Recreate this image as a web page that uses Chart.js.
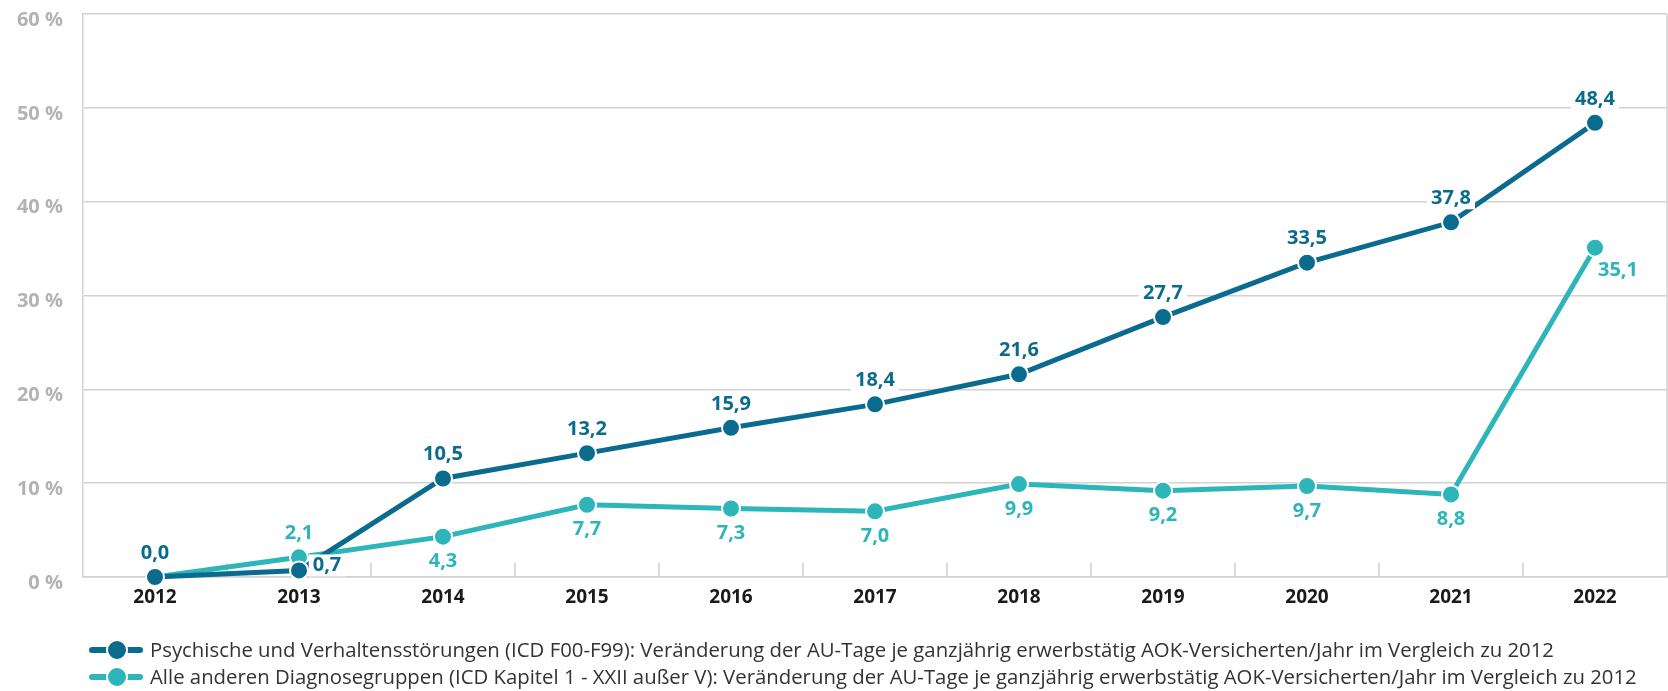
<!DOCTYPE html>
<html>
<head>
<meta charset="utf-8">
<script src="https://cdn.jsdelivr.net/npm/chart.js@4.4.0/dist/chart.umd.min.js"></script>
<style>
  html, body { margin: 0; background: #fff; overflow: hidden; }
  #wrap { width: 1668px; height: 691px; position: relative; }
</style>
</head>
<body>
<div id="wrap"><canvas id="auChart"></canvas></div>
<script>
const years = ['2012', '2013', '2014', '2015', '2016', '2017', '2018', '2019', '2020', '2021', '2022']
const psychValues = [0.0, 0.7, 10.5, 13.2, 15.9, 18.4, 21.6, 27.7, 33.5, 37.8, 48.4]
const otherValues = [0.0, 2.1, 4.3, 7.7, 7.3, 7.0, 9.9, 9.2, 9.7, 8.8, 35.1]
const yTicks = [0, 10, 20, 30, 40, 50, 60]

const psychLabel = 'Psychische und Verhaltensstörungen (ICD F00-F99): Veränderung der AU-Tage je ganzjährig erwerbstätig AOK-Versicherten/Jahr im Vergleich zu 2012'
const otherLabel = 'Alle anderen Diagnosegruppen (ICD Kapitel 1 - XXII außer V): Veränderung der AU-Tage je ganzjährig erwerbstätig AOK-Versicherten/Jahr im Vergleich zu 2012'

const darkBlue = '#0b6b8f'
const teal = '#2db5b9'
const gridGray = '#d2d2d2'

// where each value label sits relative to its point
const psychLabelPos = ['top', 'right', 'top', 'top', 'top', 'top', 'top', 'top', 'top', 'top', 'top']
const otherLabelPos = ['none', 'top', 'bottom', 'bottom', 'bottom', 'bottom', 'bottom', 'bottom', 'bottom', 'bottom', 'bottomright']

function fmt(v) {
  return v.toFixed(1).replace('.', ',')
}

// value labels with white box behind
const valueLabels = {
  id: 'valueLabels',
  afterDatasetsDraw(chart) {
    const ctx = chart.ctx
    ctx.save()
    ctx.font = 'bold 20px "Open Sans"'
    ctx.textAlign = 'center'
    ctx.textBaseline = 'middle'
    chart.data.datasets.forEach((ds, di) => {
      const meta = chart.getDatasetMeta(di)
      meta.data.forEach((pt, i) => {
        const pos = ds.labelPos[i]
        if (pos === 'none') return
        let dx = 0, dy = -24
        if (pos === 'bottom') dy = 25
        if (pos === 'right') { dx = 28; dy = -5 }
        if (pos === 'bottomright') { dx = 23; dy = 23 }
        const txt = fmt(ds.data[i])
        const w = ctx.measureText(txt).width
        const x = pt.x + dx, y = pt.y + dy
        ctx.fillStyle = '#fff'
        ctx.fillRect(x - w / 2 - 4, y - 11, w + 8, 22)
        ctx.fillStyle = ds.borderColor
        ctx.fillText(txt, x, y)
      })
    })
    ctx.restore()
  }
}

// small inner ticks between categories + right border
const frameBits = {
  id: 'frameBits',
  beforeDatasetsDraw(chart) {
    const ctx = chart.ctx
    const area = chart.chartArea
    const xs = chart.scales.x
    ctx.save()
    ctx.strokeStyle = gridGray
    ctx.lineWidth = 1.5
    ctx.beginPath()
    for (let i = 1; i < years.length; i++) {
      const x = (xs.getPixelForTick(i - 1) + xs.getPixelForTick(i)) / 2
      ctx.moveTo(x, area.bottom - 14)
      ctx.lineTo(x, area.bottom)
    }
    ctx.moveTo(area.right, area.top)
    ctx.lineTo(area.right, area.bottom)
    ctx.stroke()
    ctx.restore()
  }
}

// legend: line + circle marker, one row per dataset
const rowLegend = {
  id: 'rowLegend',
  afterDraw(chart) {
    const ctx = chart.ctx
    ctx.save()
    ctx.font = '20px "Open Sans"'
    const widest = ctx.measureText(otherLabel).width
    const size = 20 * 1487 / widest
    ctx.font = size.toFixed(2) + 'px "Open Sans"'
    ctx.textBaseline = 'middle'
    chart.data.datasets.forEach((ds, i) => {
      const y = 650 + i * 27
      ctx.strokeStyle = ds.borderColor
      ctx.lineWidth = 6
      ctx.lineCap = 'round'
      ctx.beginPath()
      ctx.moveTo(92, y)
      ctx.lineTo(140, y)
      ctx.stroke()
      ctx.beginPath()
      ctx.arc(117, y, 10, 0, Math.PI * 2)
      ctx.fillStyle = ds.borderColor
      ctx.fill()
      ctx.lineWidth = 2
      ctx.strokeStyle = '#fff'
      ctx.stroke()
      ctx.fillStyle = '#333'
      ctx.fillText(ds.label, 150, y + 1)
    })
    ctx.restore()
  }
}

function noPad(scale) {
  scale.paddingTop = 0
  scale.paddingBottom = 0
  scale.paddingLeft = 0
  scale.paddingRight = 0
}

const data = {
  labels: years,
  datasets: [{
    label: psychLabel,
    data: psychValues,
    labelPos: psychLabelPos,
    borderColor: darkBlue,
    backgroundColor: darkBlue,
    borderWidth: 5,
    pointRadius: 9,
    pointHoverRadius: 9,
    pointBorderColor: '#fff',
    pointBorderWidth: 2,
    clip: false,
    tension: 0
  }, {
    label: otherLabel,
    data: otherValues,
    labelPos: otherLabelPos,
    borderColor: teal,
    backgroundColor: teal,
    borderWidth: 5,
    pointRadius: 9,
    pointHoverRadius: 9,
    pointBorderColor: '#fff',
    pointBorderWidth: 2,
    clip: false,
    tension: 0
  }]
}

const config = {
  type: 'line',
  data: data,
  options: {
    responsive: true,
    maintainAspectRatio: false,
    animation: false,
    layout: { autoPadding: false, padding: { top: 14, right: 1, bottom: 74, left: 0 } },
    plugins: {
      legend: { display: false },
      tooltip: { enabled: false }
    },
    scales: {
      x: {
        offset: true,
        grid: { display: false, drawTicks: false },
        border: { display: true, color: gridGray, width: 1.5 },
        ticks: {
          padding: 9,
          color: '#1a1a1a',
          font: { family: 'Open Sans', weight: 'bold', size: 19 }
        },
        afterFit(scale) { scale.height = 40; noPad(scale) }
      },
      y: {
        min: 0,
        max: 60,
        afterBuildTicks(scale) { scale.ticks = yTicks.map(v => ({ value: v })) },
        grid: { color: gridGray, lineWidth: 1.5, drawTicks: false },
        border: { display: true, color: gridGray, width: 1.5 },
        ticks: {
          padding: 20,
          labelOffset: 6,
          color: '#b3b3b3',
          font: { family: 'Open Sans', weight: 'bold', size: 20 },
          callback: v => v + ' %'
        },
        afterFit(scale) { scale.width = 83; noPad(scale) }
      }
    }
  },
  plugins: [frameBits, valueLabels, rowLegend]
}

const auChart = new Chart(document.getElementById('auChart'), config)
</script>
</body>
</html>
